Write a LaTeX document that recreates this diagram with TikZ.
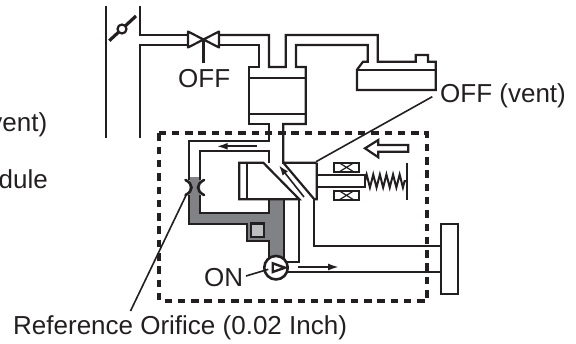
\documentclass[tikz,border=0pt]{standalone}
\usepackage{fontspec}
\setmainfont{Liberation Sans}
\usepackage{xcolor}
\usetikzlibrary{arrows.meta, decorations.pathmorphing}
\definecolor{ink}{HTML}{231F20}
\definecolor{oilgray}{HTML}{808285}
\definecolor{pistongray}{HTML}{BCBEC0}
\tikzset{
  pipe/.style={draw=ink, line width=2.2pt, line join=miter},
  thinline/.style={draw=ink, line width=1.6pt},
  flow/.style={draw=ink, line width=1.9pt, -{Latex[length=11pt,width=7pt]}},
  label/.style={inner sep=0pt, text=ink, font=\fontsize{26}{28}\selectfont, anchor=base west},
}
\begin{document}
\begin{tikzpicture}[x=1pt,y=-1pt]
      \useasboundingbox (0,0) rectangle (576,343);
      % gray oil channel
      \fill[oilgray] (189.3,177) -- (200,177) -- (200,213.3) -- (269.3,213.3) -- (269.3,199.3)
        -- (284.3,199.3) -- (284.3,258) -- (269.3,258) -- (269.3,240.7) -- (246.7,240.7)
        -- (246.7,224) -- (189.3,224) -- cycle;
      % module outline
      \draw[ink, line width=3.8pt, dash pattern=on 7.5pt off 5.8pt] (159,133.3) rectangle (427.3,300.7);
      % left wall and switch
      \draw[pipe] (105.7,5.7) -- (105.7,138);
      \draw[ink, line width=3.2pt] (109.3,40.7) -- (136,16);
      \node[draw=ink, fill=white, line width=2.2pt, circle, minimum size=9pt, inner sep=0pt] (S) at (122,29) {};
      % upper pipes
      \draw[pipe] (140,5.7) -- (140,35) -- (188,35);
      \draw[pipe] (140,138) -- (140,45) -- (188,45);
      \draw[pipe] (219,35) -- (269,35) -- (269,67) -- (285.7,67) -- (285.7,35) -- (377.7,35)
        -- (377.7,61.7) -- (415.7,61.7) -- (415.7,55) -- (428,55) -- (428,61.7) -- (435.7,61.7)
        -- (435.7,90) -- (357,90) -- (357,69.7) -- (363,61.7) -- (367.7,61.7) -- (367.7,45)
        -- (296,45) -- (296,67) -- (305.7,67) -- (305.7,124) -- (283.3,124) -- (283.3,162.7) -- (316.7,162.7);
      \draw[pipe] (357,69.7) -- (435.7,69.7);
      \draw[pipe] (219,45) -- (259,45) -- (259,67) -- (249.3,67) -- (249.3,124.3) -- (269.3,124.3)
        -- (269.3,140.7) -- (189.3,140.7) -- (189.3,180);
      \draw[pipe] (249.3,78) -- (305.7,78);
      \draw[pipe] (249.3,114) -- (305.7,114);
      % shutoff valve
      \draw[pipe, line join=round] (188,31.5) -- (188,47.5) -- (219,31.5) -- (219,47.5) -- cycle;
      \draw[pipe] (203.5,39.5) -- (203.5,63);
      \node[label] (valveoff) at (178,87) {OFF};
      % control valve
      \draw[pipe] (189.3,195) -- (189.3,224) -- (246.7,224) -- (246.7,240.7) -- (269.3,240.7) -- (269.3,258);
      \draw[pipe] (200,180) -- (200,151) -- (269.3,151) -- (269.3,162.7);
      \draw[pipe] (200,195) -- (200,213.3) -- (269.3,213.3) -- (269.3,199.3);
      \draw[pipe] (284.3,199.3) -- (284.3,258);
      \draw[pipe] (263.3,162.7) -- (239.3,162.7) -- (239.3,199.3) -- (299.3,199.3) -- cycle;
      \draw[pipe] (247.3,162.7) -- (247.3,199.3);
      \draw[pipe] (283.3,162.7) -- (314.3,199.3) -- (316.7,199.3) -- (316.7,162.7);
      \draw[pipe] (299.3,199.3) -- (299.3,261.7) -- (286,261.7);
      \draw[pipe] (314,199.3) -- (314,246) -- (441,246);
      \draw[pipe] (287,271.7) -- (441,271.7);
      \draw[thinline, -{Latex[length=10pt,width=7pt]}] (304,197) -- (279,165.5);
      % orifice
      \draw[ink, line width=2.6pt, line cap=round] (185.5,180) .. controls (193.5,184) and (193.5,191) .. (185.5,195);
      \draw[ink, line width=2.6pt, line cap=round] (204,180) .. controls (196,184) and (196,191) .. (204,195);
      % solenoid and spring
      \draw[pipe] (316.7,175) -- (365,175) -- (365,187.3) -- (316.7,187.3);
      \draw[ink, line width=2pt, decorate, decoration={zigzag, segment length=6.6pt, amplitude=6.5pt}] (365,181) -- (406,181);
      \draw[ink, line width=2.4pt] (407,162.7) -- (407,200);
      \foreach \ytop/\name in {162.7/coilA, 190.7/coilB} {
        \draw[pipe] (334,\ytop) rectangle (359.3,\ytop+9.3);
        \draw[ink, line width=1.2pt] (339,\ytop) -- (354,\ytop+9.3) (339,\ytop+9.3) -- (354,\ytop);
      }
      \draw[pipe, line join=miter] (365,148.3) -- (378.3,140) -- (378.3,145) -- (408.3,145) -- (408.3,151.7)
        -- (378.3,151.7) -- (378.3,157.3) -- cycle;
      % small square
      \node[draw=ink, fill=pistongray, line width=2.2pt, minimum size=13.5pt, inner sep=0pt] (P) at (257.5,230.3) {};
      % pump
      \node[draw=ink, fill=white, line width=2.6pt, circle, minimum size=23.5pt, inner sep=0pt] (pump) at (276,267.7) {};
      \draw[ink, line width=2.4pt] (272.7,263.3) -- (285,267.7) -- (272.7,272) -- cycle;
      % canister
      \node[draw=ink, fill=white, line width=2.2pt, minimum width=17.3pt, minimum height=70pt, inner sep=0pt] (C) at (449.7,259) {};
      % flow arrows
      \draw[flow] (257.3,146.3) -- (216.7,146.3);
      \draw[flow] (298.3,267) -- (339,267);
      % labels
      \node[label] (vent) at (440,102.7) {OFF (vent)};
      \node[label] (orifice) at (13,334) {Reference Orifice (0.02 Inch)};
      \node[label] (on) at (204,286) {ON};
      \node[label, anchor=base east] (ventL) at (47.5,131.7) {vent)};
      \node[label, anchor=base east] (dule) at (48,188) {dule};
      % leaders
      \coordinate (ventend) at (316,161.7);
      \coordinate (orificeend) at (187,193.3);
      \coordinate (onend) at (268.3,269.3);
      \draw[thinline] (432.3,96.7) -- (ventend);
      \draw[thinline] (130.5,311) -- (orificeend);
      \draw[thinline] (246,276) -- (onend);
    \end{tikzpicture}
\end{document}
